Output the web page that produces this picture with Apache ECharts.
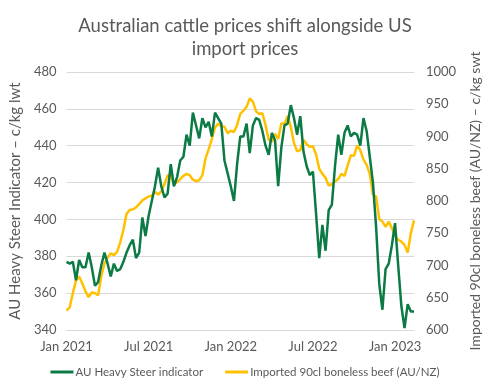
<!DOCTYPE html>
<html><head><meta charset="utf-8">
<script src="https://cdn.jsdelivr.net/npm/echarts@6/dist/echarts.min.js"></script>
<style>html,body{margin:0;padding:0;background:#fff}#c{width:490px;height:390px}</style>
</head><body><div id="c"></div>
<script>
// Weekly observations starting 1 Jan 2021
const startDate = '2021-01-01';
const weekCount = 111;
const tickWeeks = [0, 26, 52, 78, 104];
const tickLabels = ['Jan 2021', 'Jul 2021', 'Jan 2022', 'Jul 2022', 'Jan 2023'];

// AU Heavy Steer indicator (c/kg lwt), left axis
const steer = [377,376,377,367,378,374,374,382,374,364,366,375,382,376,369,376,372,373,377,382,
386,389,379,382,401,391,402,410,418,428,418,412,414,430,418,423,432,434,446,440,
458,451,444,455,450,453,445,458,455,452,432,425,418,410,430,445,445,452,436,451,
455,454,448,440,435,447,443,418,439,451,452,462,455,446,456,437,429,424,426,403,
379,397,383,405,408,429,446,435,447,451,445,447,446,440,455,448,434,420,396,365,
351,373,376,386,398,375,353,341,354,350,350];

// Imported 90cl boneless beef (AU/NZ) (c/kg swt), right axis
const beef = [630,635,657,677,683,672,660,651,658,657,654,683,703,712,719,716,721,736,755,780,
786,787,790,795,801,804,807,808,814,810,815,826,840,838,826,829,834,839,842,840,
833,831,832,840,866,880,896,914,920,916,915,905,909,907,918,935,940,946,959,954,
939,935,936,918,895,892,904,896,920,920,932,915,890,877,879,895,888,884,885,872,
850,842,836,824,826,830,834,842,839,855,871,870,886,879,864,856,842,810,807,772,
768,760,768,758,746,740,737,732,720,750,770];

const categories = [];
{
  const d0 = new Date(startDate + 'T00:00:00Z');
  for (let i = 0; i < weekCount; i++) {
    const d = new Date(d0.getTime() + i * 7 * 86400000);
    categories.push(d.toISOString().slice(0, 10));
  }
}

const FONT = 'Lato';
const GREY = '#595959';
const chart = echarts.init(document.getElementById('c'), null, {renderer: 'canvas'});
chart.setOption({
  animation: false,
  textStyle: {fontFamily: FONT},
  title: {
    text: 'Australian cattle prices shift alongside US\nimport prices',
    left: 'center', top: 10,
    textStyle: {fontFamily: FONT, fontSize: 18.5, fontWeight: 'normal', color: GREY, lineHeight: 23}
  },
  legend: {
    bottom: 7, left: 'center', itemGap: 22, itemWidth: 23, itemHeight: 3,
    icon: 'rect',
    textStyle: {fontFamily: FONT, fontSize: 11.5, color: GREY, padding: [0, 0, 0, -3]},
    data: ['AU Heavy Steer indicator', 'Imported 90cl boneless beef (AU/NZ)']
  },
  grid: {left: 66, right: 74, top: 72, bottom: 60, containLabel: false},
  xAxis: {
    type: 'category', data: categories, boundaryGap: false,
    axisLine: {lineStyle: {color: '#D9D9D9'}},
    axisTick: {show: false},
    axisLabel: {
      color: GREY, fontSize: 13, fontFamily: FONT, margin: 10,
      interval: (i) => tickWeeks.indexOf(i) >= 0,
      formatter: (v, i) => { const k = tickWeeks.indexOf(i); return k >= 0 ? tickLabels[k] : ''; }
    },
    splitLine: {show: false}
  },
  yAxis: [{
    type: 'value', min: 340, max: 480, interval: 20,
    name: 'AU Heavy Steer Indicator – c/kg lwt', nameLocation: 'middle', nameGap: 43,
    nameTextStyle: {color: GREY, fontSize: 15, fontFamily: FONT},
    axisLine: {show: false}, axisTick: {show: false},
    axisLabel: {color: GREY, fontSize: 13, fontFamily: FONT, margin: 10},
    splitLine: {lineStyle: {color: '#D9D9D9', width: 1}}
  }, {
    type: 'value', min: 600, max: 1000, interval: 50, position: 'right',
    name: 'Imported 90cl boneless beef (AU/NZ) – c/kg swt', nameLocation: 'middle', nameGap: 54,
    nameTextStyle: {color: GREY, fontSize: 14, fontFamily: FONT},
    axisLine: {show: false}, axisTick: {show: false},
    axisLabel: {color: GREY, fontSize: 13, fontFamily: FONT, margin: 12, formatter: (v) => String(v)},
    splitLine: {show: false}
  }],
  series: [{
    name: 'AU Heavy Steer indicator', type: 'line', yAxisIndex: 0, data: steer,
    showSymbol: false, symbol: 'none', lineStyle: {color: '#0B7A45', width: 2.5},
    itemStyle: {color: '#0B7A45'}, z: 3
  }, {
    name: 'Imported 90cl boneless beef (AU/NZ)', type: 'line', yAxisIndex: 1, data: beef,
    showSymbol: false, symbol: 'none', lineStyle: {color: '#FFC000', width: 2.5},
    itemStyle: {color: '#FFC000'}, z: 2
  }]
});
</script></body></html>
